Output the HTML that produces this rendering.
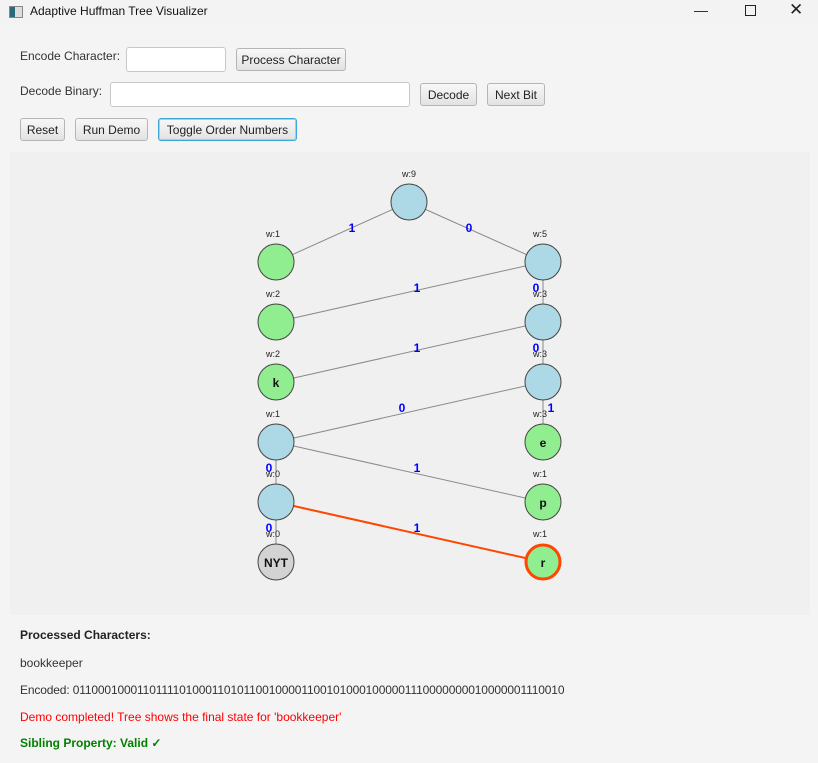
<!DOCTYPE html>
<html><head><meta charset="utf-8"><style>
body{margin:0;width:818px;height:763px;background:#f4f4f4;font-family:"Liberation Sans",sans-serif;font-size:12px;color:#333;position:relative;overflow:hidden}
.a{position:absolute}
.btn{position:absolute;height:23px;border:1px solid #b5b5b5;border-radius:3px;background:linear-gradient(#f8f8f8,#e2e2e2);font-size:12px;line-height:23px;text-align:center;color:#222;box-sizing:border-box}
.in{position:absolute;background:#fff;border:1px solid #c8c8c8;border-radius:3px;box-sizing:border-box}
</style></head><body>
<div class="a" style="left:0;top:0;width:818px;height:24px;background:#f3f3f3"></div>
<div class="a" style="left:9px;top:6px;width:12px;height:10px;border:1px solid #888;background:linear-gradient(90deg,#2a6a7a 40%,#ddd 40%)"></div>
<div class="a" style="left:30px;top:4px;font-size:12px;color:#111">Adaptive Huffman Tree Visualizer</div>
<div class="a" style="left:694px;top:2px;font-size:14px;color:#222">—</div>
<div class="a" style="left:745px;top:5px;width:9px;height:9px;border:1px solid #222"></div>
<div class="a" style="left:789px;top:0px;font-size:17px;color:#222">✕</div>

<div class="a" style="left:20px;top:49px">Encode Character:</div>
<div class="in" style="left:126px;top:47px;width:100px;height:25px"></div>
<div class="btn" style="left:236px;top:48px;width:110px">Process Character</div>
<div class="a" style="left:20px;top:84px">Decode Binary:</div>
<div class="in" style="left:110px;top:82px;width:300px;height:25px"></div>
<div class="btn" style="left:420px;top:83px;width:57px">Decode</div>
<div class="btn" style="left:487px;top:83px;width:58px">Next Bit</div>
<div class="btn" style="left:20px;top:118px;width:45px">Reset</div>
<div class="btn" style="left:75px;top:118px;width:73px">Run Demo</div>
<div class="btn" style="left:158px;top:118px;width:139px;border-color:#3fa7d8;box-shadow:0 0 0 1px #9ed1ec inset">Toggle Order Numbers</div>

<svg class="a" style="left:10px;top:152px" width="800" height="463" viewBox="10 152 800 463">
<rect x="10" y="152" width="800" height="463" fill="#f0f0f0"/>
<g stroke="#8a8a8a" stroke-width="1">
<line x1="409" y1="202" x2="276" y2="262"/><line x1="409" y1="202" x2="543" y2="262"/>
<line x1="543" y1="262" x2="276" y2="322"/><line x1="543" y1="262" x2="543" y2="322"/>
<line x1="543" y1="322" x2="276" y2="382"/><line x1="543" y1="322" x2="543" y2="382"/>
<line x1="543" y1="382" x2="276" y2="442"/><line x1="543" y1="382" x2="543" y2="442"/>
<line x1="276" y1="442" x2="276" y2="502"/><line x1="276" y1="442" x2="543" y2="502"/>
<line x1="276" y1="502" x2="276" y2="562"/>
</g>
<line x1="276" y1="502" x2="543" y2="562" stroke="#ff4500" stroke-width="2"/>
<g stroke="#444" stroke-width="1">
<circle cx="409" cy="202" r="18" fill="#add8e6"/>
<circle cx="276" cy="262" r="18" fill="#90ee90"/>
<circle cx="276" cy="322" r="18" fill="#90ee90"/>
<circle cx="276" cy="382" r="18" fill="#90ee90"/>
<circle cx="276" cy="442" r="18" fill="#add8e6"/>
<circle cx="276" cy="502" r="18" fill="#add8e6"/>
<circle cx="276" cy="562" r="18" fill="#d3d3d3"/>
<circle cx="543" cy="262" r="18" fill="#add8e6"/>
<circle cx="543" cy="322" r="18" fill="#add8e6"/>
<circle cx="543" cy="382" r="18" fill="#add8e6"/>
<circle cx="543" cy="442" r="18" fill="#90ee90"/>
<circle cx="543" cy="502" r="18" fill="#90ee90"/>
</g>
<circle cx="543" cy="562" r="17" fill="#90ee90" stroke="#ff4500" stroke-width="3"/>
<g font-family="Liberation Sans,sans-serif" font-size="9" fill="#222" text-anchor="middle">
<text x="409" y="177">w:9</text>
<text x="273" y="237">w:1</text><text x="273" y="297">w:2</text><text x="273" y="357">w:2</text>
<text x="273" y="417">w:1</text><text x="273" y="477">w:0</text><text x="273" y="537">w:0</text>
<text x="540" y="237">w:5</text><text x="540" y="297">w:3</text><text x="540" y="357">w:3</text>
<text x="540" y="417">w:3</text><text x="540" y="477">w:1</text><text x="540" y="537">w:1</text>
</g>
<g font-family="Liberation Sans,sans-serif" font-size="12" font-weight="bold" fill="#111" text-anchor="middle">
<text x="276" y="387">k</text><text x="276" y="567">NYT</text>
<text x="543" y="447">e</text><text x="543" y="507">p</text><text x="543" y="567">r</text>
</g>
<g font-family="Liberation Sans,sans-serif" font-size="12" font-weight="bold" fill="#0000ff" text-anchor="middle">
<text x="352" y="232">1</text><text x="469" y="232">0</text>
<text x="417" y="292">1</text><text x="536" y="292">0</text>
<text x="417" y="352">1</text><text x="536" y="352">0</text>
<text x="402" y="412">0</text><text x="551" y="412">1</text>
<text x="269" y="472">0</text><text x="417" y="472">1</text>
<text x="269" y="532">0</text><text x="417" y="532">1</text>
</g>
</svg>

<div class="a" style="left:20px;top:628px;font-weight:bold;color:#222">Processed Characters:</div>
<div class="a" style="left:20px;top:656px">bookkeeper</div>
<div class="a" style="left:20px;top:683px;letter-spacing:-0.15px">Encoded: 01100010001101111010001101011001000011001010001000001110000000010000001110010</div>
<div class="a" style="left:20px;top:710px;color:#ff0000">Demo completed! Tree shows the final state for 'bookkeeper'</div>
<div class="a" style="left:20px;top:736px;color:#008000;font-weight:bold">Sibling Property: Valid ✓</div>
</body></html>
